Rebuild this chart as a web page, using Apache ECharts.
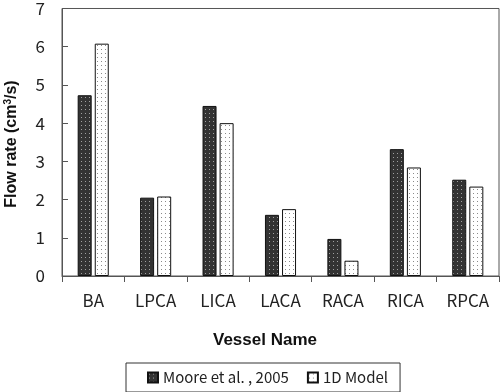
<!DOCTYPE html>
<html><head><meta charset="utf-8">
<script src="https://cdn.jsdelivr.net/npm/echarts@6/dist/echarts.min.js"></script>
<style>html,body{margin:0;padding:0;background:#fff}#c{width:500px;height:392px}</style>
</head><body><div id="c"></div>
<script>
const categories = ['BA','LPCA','LICA','LACA','RACA','RICA','RPCA'];
const mooreValues = [4.73, 2.05, 4.45, 1.6, 0.97, 3.32, 2.52];
const modelValues = [6.08, 2.08, 4.0, 1.75, 0.4, 2.84, 2.34];
const seriesNames = ['Moore et al. , 2005', '1D Model'];
const yTicks = [0,1,2,3,4,5,6,7];

function pattern(bg, dot){
  const c = document.createElement('canvas'); c.width = 4; c.height = 4;
  const g = c.getContext('2d');
  g.fillStyle = bg; g.fillRect(0,0,4,4);
  g.fillStyle = dot; g.fillRect(1,1,1,1);
  return {image: c, repeat: 'repeat'};
}
const darkPat = pattern('#333333', '#a0a0a0');
const lightPat = pattern('#ffffff', '#8a8a8a');
const labelFont = '"Noto Sans CJK KR", "Noto Sans", sans-serif';
const titleFont = '"Liberation Sans", Arial, sans-serif';

const chart = echarts.init(document.getElementById('c'), null, {renderer:'canvas'});
chart.setOption({
  animation:false,
  grid:{left:62, right:1, top:7, bottom:116, show:true, borderColor:'#555', borderWidth:1},
  xAxis:{type:'category', data:categories,
    axisLine:{lineStyle:{color:'#555'}}, axisTick:{show:true, length:6, lineStyle:{color:'#555'}},
    axisLabel:{fontFamily:labelFont, fontSize:17, color:'#222', margin:16}},
  yAxis:{type:'value', min:0, max:7, interval:1,
    axisLine:{show:true, lineStyle:{color:'#555'}}, axisTick:{show:true, inside:true, length:6, lineStyle:{color:'#555'}},
    splitLine:{show:false},
    axisLabel:{fontFamily:labelFont, fontSize:17, color:'#222', margin:17,
      formatter:v=>yTicks.includes(v)?String(v):''}},
  graphic:[
    {type:'text', x:265, y:340, style:{text:'Vessel Name', font:'bold 17px '+titleFont, fill:'#111', align:'center', verticalAlign:'middle'}},
    {type:'text', x:11.5, y:144, rotation:Math.PI/2, style:{
      text:'{a|Flow rate (cm}{s|3}{a|/s)}', align:'center', verticalAlign:'middle',
      rich:{a:{font:'bold 16px '+titleFont, fill:'#111', verticalAlign:'bottom'},
            s:{font:'bold 10px '+titleFont, fill:'#111', verticalAlign:'top', padding:[0,0,6,0]}}}}
  ],
  legend:{left:126, top:363, itemWidth:10, itemHeight:10, itemGap:18,
    padding:[7,12,7,21], borderColor:'#333', borderWidth:1, icon:'rect',
    textStyle:{fontFamily:labelFont, fontSize:15, color:'#222'}, data:seriesNames},
  series:[
    {name:seriesNames[0], type:'bar', data:mooreValues, barWidth:14, barGap:'22%',
      itemStyle:{color:darkPat, borderColor:'#111', borderWidth:1}},
    {name:seriesNames[1], type:'bar', data:modelValues, barWidth:14,
      itemStyle:{color:lightPat, borderColor:'#111', borderWidth:1}}
  ]
});
</script></body></html>
